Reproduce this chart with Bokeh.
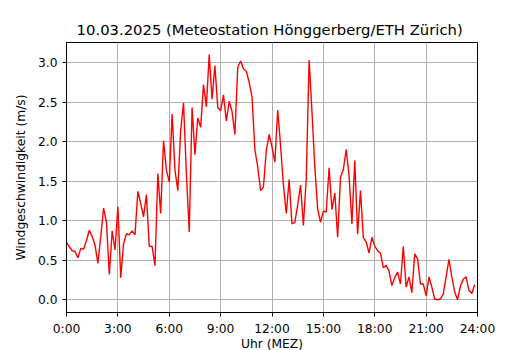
from bokeh.plotting import figure
from bokeh.models import FixedTicker, Range1d, Title
from bokeh.embed import file_html
from bokeh.resources import INLINE

# wind speed (m/s), 10-minute values from 0:00 to 23:50
wind = [
    0.73, 0.67, 0.62, 0.61, 0.53, 0.65, 0.64, 0.75, 0.88, 0.80,
    0.69, 0.46, 0.80, 1.16, 0.98, 0.32, 0.87, 0.63, 1.18, 0.28,
    0.71, 0.835, 0.82, 0.87, 0.82, 1.37, 1.215, 1.05, 1.33, 0.675,
    0.675, 0.43, 1.595, 1.09, 2.01, 1.64, 1.49, 2.35, 1.64, 1.38,
    2.14, 2.49, 1.60, 0.856, 2.43, 1.835, 2.30, 2.18, 2.72, 2.44,
    3.10, 2.535, 2.96, 2.43, 2.39, 2.59, 2.26, 2.51, 2.38, 2.09,
    2.94, 3.02, 2.92, 2.89, 2.75, 2.565, 1.90, 1.68, 1.38, 1.425,
    1.89, 2.09, 1.93, 1.74, 2.40, 1.95, 1.45, 1.09, 1.52, 0.96,
    0.98, 1.20, 1.45, 0.94, 1.53, 3.03, 2.38, 1.68, 1.15, 0.98,
    1.12, 1.11, 1.67, 1.14, 1.35, 0.79, 1.55, 1.65, 1.90, 1.57,
    0.96, 1.76, 0.83, 1.38, 0.785, 0.73, 0.59, 0.79, 0.68, 0.62,
    0.59, 0.405, 0.435, 0.36, 0.18, 0.28, 0.35, 0.20, 0.675, 0.16,
    0.29, 0.09, 0.58, 0.52, 0.20, 0.20, 0.05, 0.29, 0.16, 0.01,
    0.0, 0.01, 0.07, 0.29, 0.51, 0.29, 0.10, 0.0, 0.17, 0.26,
    0.29, 0.12, 0.08, 0.19,
]
step_minutes = 10
hours = [i * step_minutes / 60 for i in range(len(wind))]

x_ticks = [0, 3, 6, 9, 12, 15, 18, 21, 24]
x_labels = ["0:00", "3:00", "6:00", "9:00", "12:00", "15:00", "18:00", "21:00", "24:00"]
y_ticks = [0.0, 0.5, 1.0, 1.5, 2.0, 2.5, 3.0]
y_labels = ["0.0", "0.5", "1.0", "1.5", "2.0", "2.5", "3.0"]

title_text = "10.03.2025  (Meteostation Hönggerberg/ETH Zürich)"
x_title = "Uhr (MEZ)"
y_title = "Windgeschwindigkeit (m/s)"

FONT = "DejaVu Sans"

p = figure(
    width=530, height=350,
    frame_width=411, frame_height=270,
    output_backend="svg", toolbar_location=None,
    x_range=Range1d(0, 24), y_range=Range1d(-0.161, 3.253),
    min_border_left=66, min_border_right=53,
    min_border_top=42, min_border_bottom=38,
    background_fill_color="white", border_fill_color="white",
)
p.title = Title(text=title_text, align="center", text_font=FONT,
                text_font_size="14.8px", text_font_style="normal",
                text_color="black", standoff=9)

p.line(hours, wind, line_color="red", line_width=1.4)

p.outline_line_color = "black"
p.outline_line_width = 1
p.outline_line_alpha = 1

for ax in (p.xaxis[0], p.yaxis[0]):
    ax.axis_line_color = "black"
    ax.major_tick_line_color = "black"
    ax.major_tick_out = 4
    ax.major_tick_in = 0
    ax.minor_tick_line_color = None
    ax.major_label_text_font = FONT
    ax.major_label_text_font_size = "12.3px"
    ax.major_label_text_color = "black"
    ax.axis_label_text_font = FONT
    ax.axis_label_text_font_size = "12.3px"
    ax.axis_label_text_font_style = "normal"
    ax.axis_label_text_color = "black"
    ax.major_label_standoff = 5

p.xaxis[0].ticker = FixedTicker(ticks=x_ticks)
p.xaxis[0].major_label_overrides = {t: l for t, l in zip(x_ticks, x_labels)}
p.xaxis[0].axis_label = x_title
p.xaxis[0].axis_label_standoff = -2

p.yaxis[0].ticker = FixedTicker(ticks=y_ticks)
p.yaxis[0].major_label_overrides = {t: l for t, l in zip(y_ticks, y_labels)}
p.yaxis[0].axis_label = y_title
p.yaxis[0].axis_label_standoff = 7

p.xgrid.grid_line_color = "#b0b0b0"
p.ygrid.grid_line_color = "#b0b0b0"
p.xgrid.grid_line_width = 1
p.ygrid.grid_line_width = 1

open("out.html", "w").write(file_html(p, INLINE))
